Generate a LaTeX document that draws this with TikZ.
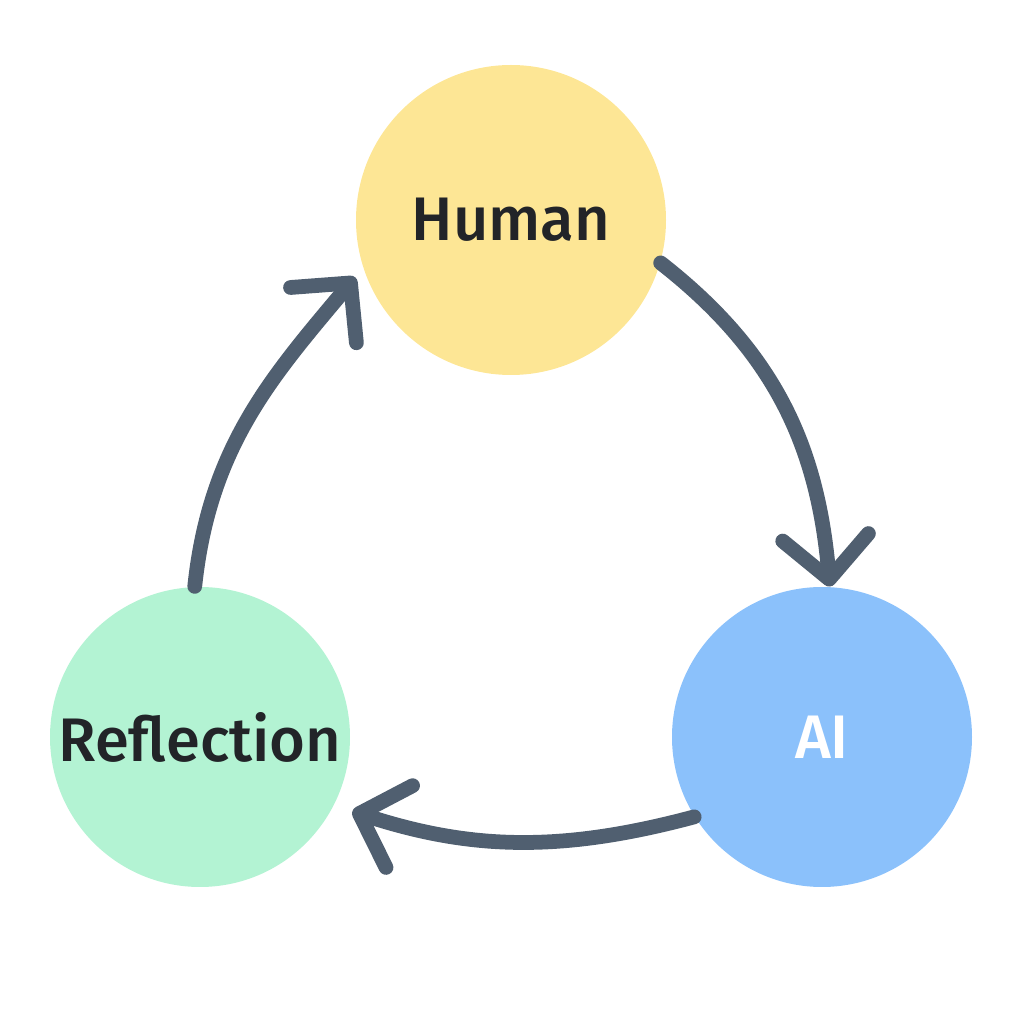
\documentclass[tikz,border=0pt]{standalone}
\usepackage{fontspec}
\setmainfont{Fira Sans}[UprightFont={* Medium}]
\usepackage{xcolor}
\usetikzlibrary{arrows.meta}
\definecolor{humanyellow}{HTML}{FDE695}
\definecolor{reflectgreen}{HTML}{B3F3D3}
\definecolor{aiblue}{HTML}{8BC1FB}
\definecolor{loopgray}{HTML}{505F70}
\definecolor{labeldark}{HTML}{222428}

\begin{document}
\begin{tikzpicture}[
        stage/.style={circle,draw=none,minimum size=3cm,inner sep=0pt},
        tag/.style={font=\fontsize{17.5}{21}\selectfont,text=labeldark},
        flow/.style={-{Straight Barb[length=4.2mm,width=8.6mm,round]},
          line width=4.2pt,line cap=round,draw=loopgray}]
        \useasboundingbox (0,0) rectangle (10.24,10.24);
        \node[stage,fill=humanyellow,minimum size=3.1cm,
          label={[tag]center:Human}] (human) at (5.11,8.04) {};
        \node[stage,fill=aiblue,
          label={[tag,text=white]center:AI}] (ai) at (8.22,2.87) {};
        \node[stage,fill=reflectgreen,
          label={[tag]center:Reflection}] (refl) at (2.00,2.87) {};
        \draw[flow] (human.-16) to[out=-38,in=95] (ai.87);
        \draw[flow,shorten >=1.9mm] (ai.212) to[out=-165,in=-18] (refl.-27);
        \draw[flow,shorten >=1.2mm] (refl.92) to[out=84,in=-130] (human.198);
      \end{tikzpicture}
\end{document}
